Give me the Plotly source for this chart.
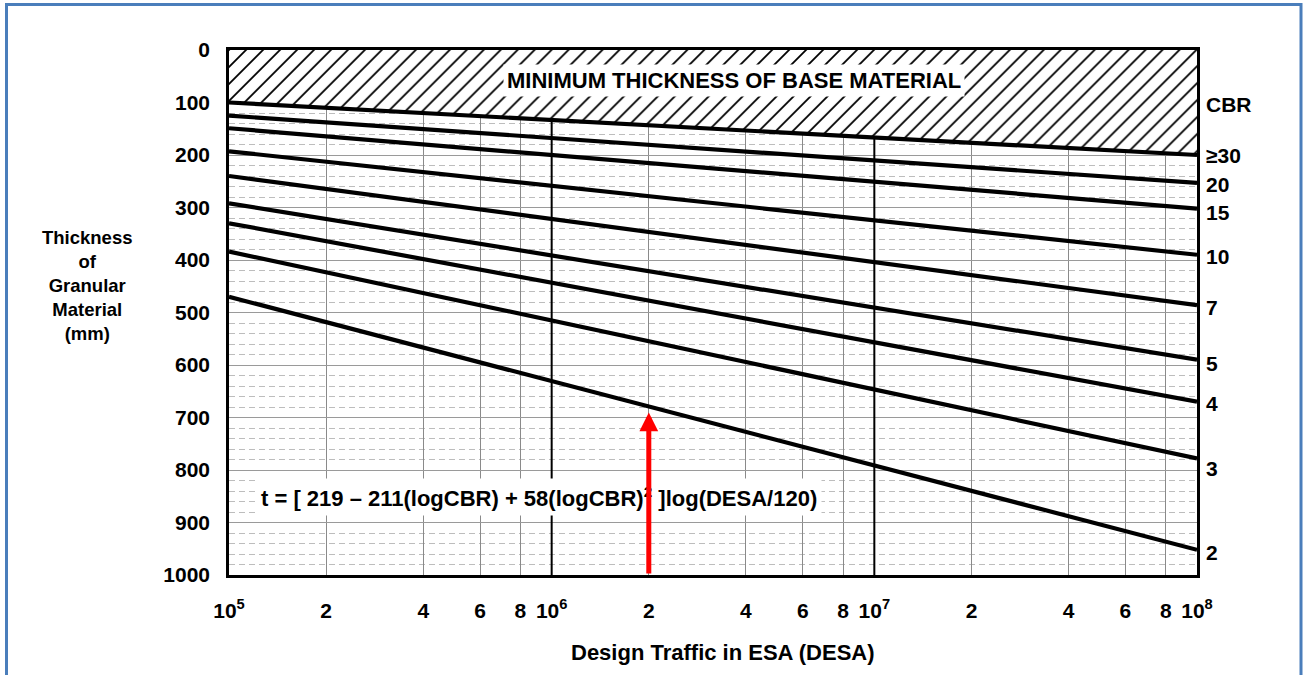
import numpy as np
import plotly.graph_objects as go

# ---------------- data ----------------
cbr_labels = ["≥30", "20", "15", "10", "7", "5", "4", "3", "2"]
desa_ends = [1e5, 1e8]
t_at_1e5 = [100, 125, 149, 193, 240, 292, 330, 384, 470]
t_at_1e8 = [200, 253, 302, 390, 486, 590, 670, 778, 952]

x_tickvals = [1e5, 2e5, 4e5, 6e5, 8e5, 1e6, 2e6, 4e6, 6e6, 8e6,
              1e7, 2e7, 4e7, 6e7, 8e7, 1e8]
x_ticktext = ["10<sup>5</sup>", "2", "4", "6", "8", "10<sup>6</sup>", "2", "4", "6", "8",
              "10<sup>7</sup>", "2", "4", "6", "8", "10<sup>8</sup>"]
y_tickvals = list(range(0, 1001, 100))
decades = [1e6, 1e7]
example_desa = 2e6
formula = "t = [ 219 – 211(logCBR) + 58(logCBR)<sup>2</sup> ]log(DESA/120)"
y_title_lines = ["Thickness", "of", "Granular", "Material", "(mm)"]

# ---------------- style ----------------
FONT = "Liberation Sans, Arial, sans-serif"
W, H = 1308, 675
ML, MR, MT, MB = 229, 111, 50, 100
PW, PH = W - ML - MR, H - MT - MB
label_shift = [0, 2, 4, 2, 2, 4, 2, 10, 3]


def px_to_paper_x(px):
    return (px - ML) / PW


def px_to_paper_y(py):
    return (H - MB - py) / PH


def bfont(size):
    return dict(family=FONT, size=size, color="black", weight="bold")


fig = go.Figure()

# decade lines (drawn first, hatch covers their top part)
for d in decades:
    fig.add_trace(go.Scatter(x=[d, d], y=[0, 1000], mode="lines",
                             line=dict(color="black", width=2),
                             hoverinfo="skip", showlegend=False))

# hatched minimum-thickness zone
fig.add_trace(go.Scatter(
    x=[desa_ends[0], desa_ends[1], desa_ends[1], desa_ends[0]],
    y=[0, 0, t_at_1e8[0], t_at_1e5[0]],
    mode="lines", fill="toself", line=dict(width=0, color="rgba(0,0,0,0)"),
    fillcolor="white",
    fillpattern=dict(shape="/", fgcolor="black", bgcolor="white",
                     size=12, solidity=0.15, fillmode="replace"),
    hoverinfo="skip", showlegend=False))

# CBR lines
for lab, a, b in zip(cbr_labels, t_at_1e5, t_at_1e8):
    fig.add_trace(go.Scatter(x=desa_ends, y=[a, b], mode="lines",
                             line=dict(color="black", width=4.2),
                             name="CBR " + lab, showlegend=False))

annotations = []

# right-hand CBR labels
annotations.append(dict(xref="paper", yref="paper", x=1, y=px_to_paper_y(105),
                        xanchor="left", yanchor="middle", xshift=7,
                        text="CBR", showarrow=False, font=bfont(21)))
for lab, b, s in zip(cbr_labels, t_at_1e8, label_shift):
    annotations.append(dict(xref="paper", yref="y", x=1, y=b,
                            xanchor="left", yanchor="middle", xshift=7, yshift=-s,
                            text=lab, showarrow=False, font=bfont(21)))

# minimum thickness label
annotations.append(dict(xref="paper", yref="paper", x=px_to_paper_x(734),
                        y=px_to_paper_y(80), xanchor="center", yanchor="middle",
                        text="MINIMUM THICKNESS OF BASE MATERIAL", showarrow=False,
                        bgcolor="white", borderpad=3, font=bfont(22)))

# formula
annotations.append(dict(xref="paper", yref="paper", x=px_to_paper_x(256),
                        y=px_to_paper_y(497), xanchor="left", yanchor="middle",
                        text=formula, showarrow=False, bgcolor="white",
                        borderpad=4, font=bfont(22)))

# y title
annotations.append(dict(xref="paper", yref="paper", x=px_to_paper_x(87),
                        y=px_to_paper_y(285), xanchor="center", yanchor="middle",
                        text="<br>".join(y_title_lines), showarrow=False,
                        font=bfont(18.5)))

# x title
annotations.append(dict(xref="paper", yref="paper", x=px_to_paper_x(723),
                        y=px_to_paper_y(652), xanchor="center", yanchor="middle",
                        text="Design Traffic in ESA (DESA)", showarrow=False,
                        font=bfont(22)))

# red arrow to the CBR 2 line
frac = (np.log10(example_desa) - np.log10(desa_ends[0])) / (np.log10(desa_ends[1]) - np.log10(desa_ends[0]))
tip = t_at_1e5[-1] + (t_at_1e8[-1] - t_at_1e5[-1]) * frac
annotations.append(dict(xref="x", yref="y", x=np.log10(example_desa), y=tip,
                        axref="x", ayref="y", ax=np.log10(example_desa), ay=1000,
                        showarrow=True, arrowhead=2, arrowsize=0.75, arrowwidth=5,
                        arrowcolor="#ff0000", standoff=6, text=""))

shapes = [dict(type="rect", xref="paper", yref="paper",
               x0=px_to_paper_x(6.5), x1=px_to_paper_x(1301),
               y0=px_to_paper_y(720), y1=px_to_paper_y(4.5),
               line=dict(color="#4a7ebb", width=3), fillcolor="rgba(0,0,0,0)",
               layer="below")]

fig.update_layout(
    width=W, height=H,
    margin=dict(l=ML, r=MR, t=MT, b=MB),
    paper_bgcolor="white", plot_bgcolor="white",
    font=dict(family=FONT, color="black"),
    annotations=annotations, shapes=shapes,
    xaxis=dict(type="log", range=[np.log10(desa_ends[0]), np.log10(desa_ends[1])],
               tickmode="array", tickvals=x_tickvals, ticktext=x_ticktext,
               ticks="", ticklabelstandoff=15,
               tickfont=bfont(21),
               showgrid=True, gridcolor="#8a8a8a", gridwidth=1,
               showline=True, mirror=True, linecolor="black", linewidth=2.5,
               zeroline=False),
    yaxis=dict(range=[1000, 0], tickmode="array", tickvals=y_tickvals,
               ticks="", ticklabelstandoff=12,
               tickfont=bfont(21),
               showgrid=True, gridcolor="#9a9a9a", gridwidth=1,
               minor=dict(dtick=20, tick0=0, showgrid=True, gridcolor="#bdbdbd",
                          griddash="6px,4px", gridwidth=1),
               showline=True, mirror=True, linecolor="black", linewidth=2.5,
               zeroline=False),
)

fig.write_html("out.html")
